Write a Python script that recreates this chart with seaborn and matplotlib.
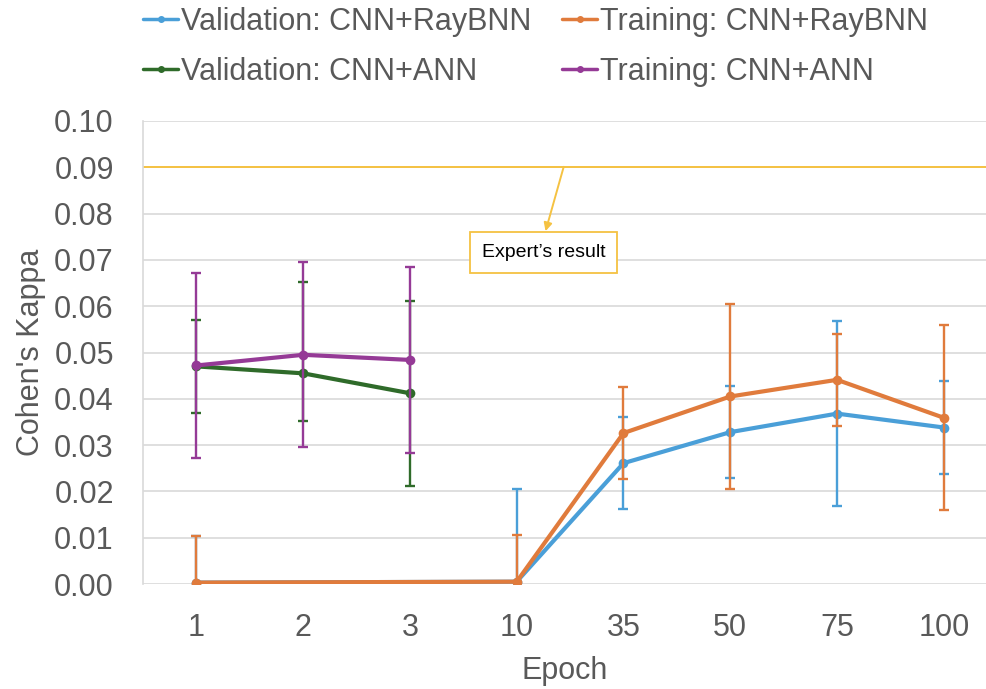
import numpy as np
import pandas as pd
import matplotlib
matplotlib.use("Agg")
import matplotlib.pyplot as plt
import seaborn as sns
from matplotlib.lines import Line2D

epochs = ["1", "2", "3", "10", "35", "50", "75", "100"]

val_raybnn = [0.0003, np.nan, np.nan, 0.0005, 0.0261, 0.0328, 0.0368, 0.0338]
val_raybnn_err = [0.01, np.nan, np.nan, 0.02, 0.01, 0.01, 0.02, 0.01]
train_raybnn = [0.0003, np.nan, np.nan, 0.0005, 0.0326, 0.0405, 0.0441, 0.0359]
train_raybnn_err = [0.01, np.nan, np.nan, 0.01, 0.01, 0.02, 0.01, 0.02]
val_ann = [0.0470, 0.0455, 0.0412, np.nan, np.nan, np.nan, np.nan, np.nan]
val_ann_err_lo = [0.01, 0.0102, 0.02, np.nan, np.nan, np.nan, np.nan, np.nan]
val_ann_err_hi = [0.01, 0.0198, 0.02, np.nan, np.nan, np.nan, np.nan, np.nan]
train_ann = [0.0472, 0.0495, 0.0484, np.nan, np.nan, np.nan, np.nan, np.nan]
train_ann_err = [0.02, 0.02, 0.02, np.nan, np.nan, np.nan, np.nan, np.nan]
expert_value = 0.09

series_names = ["Validation: CNN+RayBNN", "Training: CNN+RayBNN",
                "Validation: CNN+ANN", "Training: CNN+ANN"]
colors = ["#4A9FD8", "#E07B3C", "#2F6B2A", "#953A96"]

sns.set_theme(style="white")
FAM = ['Liberation Sans', 'DejaVu Sans']
plt.rcParams['font.family'] = FAM

fig = plt.figure(figsize=(9.86, 6.89), dpi=100)
ax = fig.add_axes([143/986, 1-584/689, (986-143)/986, (584-121)/689])

pos = np.arange(len(epochs))
vals = [val_raybnn, train_raybnn, val_ann, train_ann]
errs = [
    (val_raybnn_err, val_raybnn_err),
    (train_raybnn_err, train_raybnn_err),
    (val_ann_err_lo, val_ann_err_hi),
    (train_ann_err, train_ann_err),
]

rows = []
for name, v in zip(series_names, vals):
    for p, y in zip(pos, v):
        if not np.isnan(y):
            rows.append({"pos": p, "value": y, "series": name})
df = pd.DataFrame(rows)

for i, (name, v, (elo, ehi)) in enumerate(zip(series_names, vals, errs)):
    c = colors[i]
    v = np.array(v, dtype=float)
    m = ~np.isnan(v)
    ax.errorbar(pos[m], v[m], yerr=[np.array(elo)[m], np.array(ehi)[m]],
                fmt='none', ecolor=c, elinewidth=1.7, capsize=3.5, capthick=1.7,
                zorder=3 + i)
    sub = df[df.series == name]
    sns.lineplot(data=sub, x="pos", y="value", ax=ax, color=c, lw=3.0,
                 marker='o', markersize=7, markeredgewidth=0,
                 zorder=3.5 + i, legend=False)

ax.axhline(expert_value, color="#F5C242", lw=1.4, zorder=2)
ax.annotate('', xy=(3.27, 0.0762), xytext=(3.44, 0.0901),
            arrowprops=dict(arrowstyle='-|>', color="#F5C242", lw=1.4,
                            mutation_scale=12, shrinkA=0, shrinkB=0))
ax.text(3.25, 0.0716, "Expert\u2019s result", ha='center', va='center',
        fontsize=14, color='black', family=FAM,
        bbox=dict(boxstyle='square,pad=0.6', fc='white', ec="#F5C242", lw=1.3),
        zorder=10)

ax.set_xlim(-0.5, 7.395)
ax.set_ylim(0, 0.10)
ticks = np.arange(0, 0.1001, 0.01)
ax.set_yticks(ticks)
ax.set_yticklabels([f"{t:.2f}" for t in ticks])
ax.set_xticks(pos)
ax.set_xticklabels(epochs)
ax.tick_params(axis='both', labelsize=22, colors='#595959', length=0)
ax.tick_params(axis='y', pad=21)
ax.tick_params(axis='x', pad=21)
ax.grid(axis='y', color='#D9D9D9', lw=1.2)
ax.grid(axis='x', visible=False)
for s in ['top', 'right', 'bottom']:
    ax.spines[s].set_visible(False)
ax.spines['left'].set_color('#D9D9D9')
ax.spines['left'].set_linewidth(1.2)
ax.set_xlabel("Epoch", fontsize=22, color='#595959', labelpad=9)
ax.set_ylabel("Cohen's Kappa", fontsize=22, color='#595959', labelpad=6)

order = [0, 2, 1, 3]
handles = [Line2D([0], [0], color=colors[k], lw=2.5, marker='o', markersize=4) for k in order]
labels = [series_names[k] for k in order]
leg = fig.legend(handles, labels, loc='upper left', bbox_to_anchor=(143/986, 1 - 7/689),
                 ncol=2, frameon=False, fontsize=22, handlelength=1.15,
                 handletextpad=0.1, columnspacing=1.0, labelspacing=0.65,
                 borderaxespad=0.0, borderpad=0.0)
for t in leg.get_texts():
    t.set_color('#595959')

fig.savefig("out.png", dpi=100)
